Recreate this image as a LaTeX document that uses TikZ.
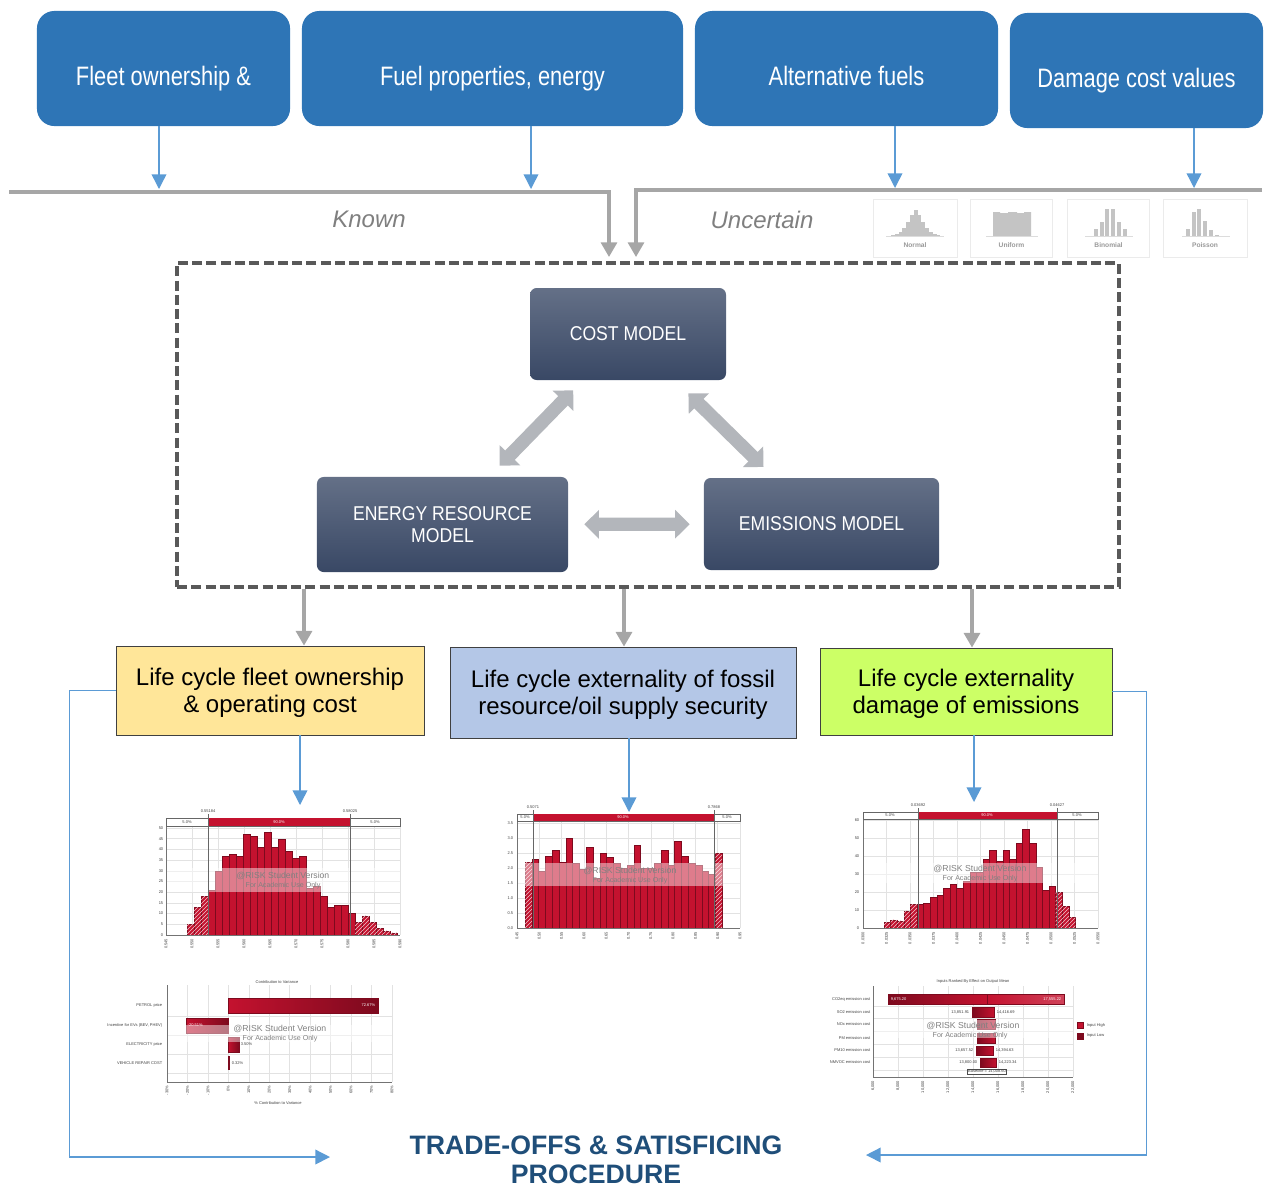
\documentclass[tikz,border=0pt]{standalone}
\usepackage{fontspec}
\setmainfont{Liberation Sans}
\usepackage{graphicx}
\usetikzlibrary{arrows.meta,patterns,calc}
\definecolor{topblue}{HTML}{2E75B6}
\definecolor{arrblue}{HTML}{5B9BD5}
\definecolor{linegrey}{HTML}{A6A6A6}
\definecolor{dashgrey}{HTML}{595959}
\definecolor{modtop}{HTML}{647087}
\definecolor{modbot}{HTML}{394865}
\definecolor{fatgrey}{HTML}{B3B6BB}
\definecolor{resyellow}{HTML}{FFE699}
\definecolor{resblue}{HTML}{B4C7E7}
\definecolor{resgreen}{HTML}{CCFF66}
\definecolor{navy}{HTML}{1F4E79}
\definecolor{barred}{HTML}{C4122F}
\definecolor{bardark}{HTML}{7D0A1E}
\definecolor{gridgrey}{HTML}{E2E2E2}
\definecolor{distgrey}{HTML}{C4C4C4}
\definecolor{labgrey}{HTML}{7F7F7F}
\newcommand{\narrowtext}[2]{\scalebox{#1}[1]{#2}}
\begin{document}
\begin{tikzpicture}[x=0.75pt,y=-0.75pt,
  topbox/.style={fill=topblue, rounded corners=13pt, inner sep=0pt},
  toptext/.style={text=white, font=\fontsize{20}{24}\selectfont, inner sep=0pt, anchor=base},
  bluearrow/.style={draw=arrblue, line width=1.1pt, -{Triangle[width=11pt,length=11pt]}},
  greyline/.style={draw=linegrey, line width=2.4pt, -{Triangle[width=12pt,length=11pt]}},
  uklabel/.style={text=labgrey, font=\itshape\fontsize{18}{20}\selectfont},
  distbox/.style={draw=black!8, fill=white, line width=0.6pt, inner sep=0pt},
  distlbl/.style={text=black!40, font=\bfseries\fontsize{5}{6}\selectfont, inner sep=0pt},
  model/.style={top color=modtop, bottom color=modbot, rounded corners=5pt, text=white, font=\fontsize{15}{17}\selectfont, align=center, inner sep=0pt},
  fatarrow/.style={draw=fatgrey, line width=10pt, {Triangle[width=21pt,length=11pt]}-{Triangle[width=21pt,length=11pt]}},
  resbox/.style={draw=black!75, line width=0.6pt, inner sep=0pt},
  restext/.style={align=center, font=\fontsize{18}{20.3}\selectfont, inner sep=0pt},
  trade/.style={text=navy, font=\bfseries\fontsize{20}{22}\selectfont, align=center, inner sep=0pt},
  gridline/.style={draw=gridgrey, line width=0.35pt},
  axisline/.style={draw=black!55, line width=0.5pt},
  barfill/.style={fill=barred, draw=bardark, line width=0.25pt},
  hatch/.style={pattern=north east lines, pattern color=white!75!barred},
  tinyt/.style={font=\fontsize{3}{3.5}\selectfont, inner sep=0.4pt, text=black!75},
  tinyw/.style={font=\fontsize{3}{3.5}\selectfont, inner sep=0.4pt, text=white},
  wmone/.style={font=\fontsize{6.5}{7}\selectfont, text=black!50, inner sep=0pt},
  wmtwo/.style={font=\fontsize{5.3}{6}\selectfont, text=black!50, inner sep=0pt},
  wmband/.style={fill=white, opacity=0.45},
  marker/.style={draw=black!60, line width=0.4pt},
]
\useasboundingbox (0,0) rectangle (1269,1189);

% ---------------- top input boxes
\node[topbox, minimum width=189.8pt, minimum height=86.3pt] (b1) at (163.5,68.5) {};
\node[toptext] (b1t) at (163.5,85) {\narrowtext{0.82}{Fleet ownership \&}};
\node[topbox, minimum width=285.8pt, minimum height=86.3pt] (b2) at (492.5,68.5) {};
\node[toptext] (b2t) at (492.5,85) {\narrowtext{0.82}{Fuel properties, energy}};
\node[topbox, minimum width=227.3pt, minimum height=86.3pt] (b3) at (846.5,68.5) {};
\node[toptext] (b3t) at (846.5,85) {\narrowtext{0.82}{Alternative fuels}};
\node[topbox, minimum width=189.8pt, minimum height=86.3pt] (b4) at (1136.5,70.5) {};
\node[toptext] (b4t) at (1136.5,87) {\narrowtext{0.82}{Damage cost values}};

\coordinate (k1) at (159,189);
\coordinate (k2) at (531,189);
\coordinate (u1) at (895,188);
\coordinate (u2) at (1194,188);
\draw[bluearrow] (b1.south -| k1) -- (k1);
\draw[bluearrow] (b2.south -| k2) -- (k2);
\draw[bluearrow] (b3.south -| u1) -- (u1);
\draw[bluearrow] (b4.south -| u2) -- (u2);

% ---------------- known / uncertain lines
\coordinate (kstart) at (9,192);
\coordinate (kend) at (609,257);
\draw[greyline] (kstart) -| (kend);
\coordinate (ustart) at (1262,190);
\coordinate (uend) at (636,257);
\draw[greyline] (ustart) -| (uend);
\node[uklabel] (known) at (369,219) {Known};
\node[uklabel] (unc) at (762,220) {Uncertain};

% ---------------- distribution icons
\node[distbox, minimum width=63pt, minimum height=43.5pt] (dn) at (915,228) {};
\node[distbox, minimum width=62pt, minimum height=43.5pt] (du) at (1011.5,228) {};
\node[distbox, minimum width=62pt, minimum height=43.5pt] (db) at (1108.5,228) {};
\node[distbox, minimum width=63pt, minimum height=43.5pt] (dp) at (1205,228) {};
\foreach \h [count=\i from 0] in {1,2,4,8,14,21,26,21,14,8,4,2,1}
  \fill[distgrey] ({891+\i*3.8},236) rectangle ++(3.8,{-\h});
\draw[distgrey!60, line width=0.4pt] (886,236.5) -- (944,236.5);
\fill[distgrey] (993,236) -- (993,212) -- (1000,212) -- (1000,213) -- (1008,213) -- (1008,212) -- (1017,212) -- (1017,213) -- (1024,213) -- (1024,212) -- (1031,212) -- (1031,236) -- cycle;
\draw[distgrey!60, line width=0.4pt] (986,236.5) -- (1038,236.5);
\foreach \h [count=\i from 0] in {7,14,27,27,14,7}
  \fill[distgrey] ({1094+\i*5.7},236) rectangle ++(4,{-\h});
\draw[distgrey!60, line width=0.4pt] (1085,236.5) -- (1133,236.5);
\foreach \h [count=\i from 0] in {7,24,27,15,6,1}
  \fill[distgrey] ({1186+\i*5.7},236) rectangle ++(4,{-\h});
\draw[distgrey!60, line width=0.4pt] (1182,236.5) -- (1230,236.5);
\node[distlbl] (dnl) at (915,245) {Normal};
\node[distlbl] (dul) at (1011.5,245) {Uniform};
\node[distlbl] (dbl) at (1108.5,245) {Binomial};
\node[distlbl] (dpl) at (1205,245) {Poisson};

% ---------------- dashed model frame
\node[draw=dashgrey, line width=2.8pt, dash pattern=on 7.5pt off 3.2pt, minimum width=706.5pt, minimum height=243pt, inner sep=0pt] (dbox) at (648,425) {};

\node[model, minimum width=147pt, minimum height=69pt] (cost) at (628,334) {\narrowtext{0.88}{COST MODEL}};
\node[model, minimum width=188.3pt, minimum height=71.3pt] (erm) at (442.5,524.5) {\narrowtext{0.88}{ENERGY RESOURCE}\\\narrowtext{0.88}{MODEL}};
\node[model, minimum width=176.3pt, minimum height=69pt] (emis) at (821.5,524) {\narrowtext{0.88}{EMISSIONS MODEL}};

\draw[fatarrow, shorten <=11.5pt, shorten >=10.5pt] (erm) -- (cost);
\draw[fatarrow, shorten <=14pt, shorten >=11.5pt] (cost) -- (emis);
\draw[fatarrow, shorten <=12pt, shorten >=10.5pt] (erm) -- (emis);

% ---------------- result boxes
\node[resbox, fill=resyellow, minimum width=231pt, minimum height=66.8pt] (r1) at (270,690.5) {};
\node[restext] (r1t) at (270,693) {Life cycle fleet ownership\\\& operating cost};
\node[resbox, fill=resblue, minimum width=259.5pt, minimum height=68.3pt] (r2) at (623,692.5) {};
\node[restext] (r2t) at (623,695) {Life cycle externality of fossil\\resource/oil supply security};
\node[resbox, fill=resgreen, minimum width=219pt, minimum height=65.3pt] (r3) at (966,691.5) {};
\node[restext] (r3t) at (966,694) {Life cycle externality\\damage of emissions};

\coordinate (o1) at (304,0);
\coordinate (o2) at (624,0);
\coordinate (o3) at (972,0);
\draw[greyline] (dbox.south -| o1) -- (r1.north -| o1);
\draw[greyline] (dbox.south -| o2) -- (r2.north -| o2);
\draw[greyline] (dbox.south -| o3) -- (r3.north -| o3);

\coordinate (c1) at (300,805);
\coordinate (c2) at (629,812);
\coordinate (c3) at (974,802);
\draw[bluearrow] (r1.south -| c1) -- (c1);
\draw[bluearrow] (r2.south -| c2) -- (c2);
\draw[bluearrow] (r3.south -| c3) -- (c3);

% ---------------- histogram 1
\foreach \k in {0,...,9} \draw[gridline] ({166+\k*26},823) -- ({166+\k*26},935);
\foreach \k in {1,...,10} \draw[gridline] (166,{935-\k*10.7}) -- (400,{935-\k*10.7});
\foreach \h [count=\i from 0] in {5,13,18,21,30,37,38,37,47,46,41,48,41,45,39,36,37,22,23,18,13,14,14,10,6,9,6,3,2,1}{
  \pgfmathsetmacro\xa{187+\i*7}
  \pgfmathtruncatemacro\tl{(\xa<207 || \xa>349) ? 1 : 0}
  \draw[barfill] (\xa,935) rectangle ++(7,{-\h*2.14});
  \ifnum\tl=1 \fill[hatch] (\xa,935) rectangle ++(7,{-\h*2.14});\fi
}
\fill[wmband] (166,868) rectangle (400,892);
\node[wmone] (h1a) at (283,876) {@RISK Student Version};
\node[wmtwo] (h1b) at (283,886) {For Academic Use Only};
\draw[axisline] (166,823) -- (166,935) -- (400,935);
\draw[marker, fill=white] (166,818) rectangle (400,826);
\fill[barred] (208,818) rectangle (350,826);
\draw[marker] (208,814) -- (208,935);
\draw[marker] (350,814) -- (350,935);
\node[tinyw] at (279,822) {90.0\%};
\node[tinyt] at (187,822) {5.0\%};
\node[tinyt] at (375,822) {5.0\%};
\node[tinyt] at (208,811) {0.55184};
\node[tinyt] at (350,811) {0.58025};
\foreach \v [count=\k from 0] in {0,5,10,15,20,25,30,35,40,45,50}
  \node[tinyt, anchor=east] at (164,{935-\k*10.7}) {\v};
\foreach \v [count=\k from 0] in {0.545,0.550,0.555,0.560,0.565,0.570,0.575,0.580,0.585,0.590}
  \node[tinyt, rotate=90, anchor=east] at ({166+\k*26},938) {\v};

% ---------------- histogram 2
\foreach \k in {0,...,10} \draw[gridline] ({517+\k*22.3},820) -- ({517+\k*22.3},928);
\foreach \k in {1,...,7} \draw[gridline] (517,{928-\k*15}) -- (740,{928-\k*15});
\foreach \h [count=\i from 0] in {2.2,2.3,1.9,2.4,2.6,2.2,3.0,2.15,1.95,2.7,1.65,2.5,2.35,2.15,2.0,2.1,2.75,2.0,2.0,2.15,2.6,2.1,2.9,2.4,2.15,2.1,1.9,1.8,2.5}{
  \pgfmathsetmacro\xa{525+\i*6.8}
  \pgfmathtruncatemacro\tl{(\xa<531 || \xa>712) ? 1 : 0}
  \draw[barfill] (\xa,928) rectangle ++(6.8,{-\h*30});
  \ifnum\tl=1 \fill[hatch] (\xa,928) rectangle ++(6.8,{-\h*30});\fi
}
\fill[wmband] (517,863) rectangle (740,886);
\node[wmone] (h2a) at (630,871) {@RISK Student Version};
\node[wmtwo] (h2b) at (630,881) {For Academic Use Only};
\draw[axisline] (517,820) -- (517,928) -- (740,928);
\draw[marker, fill=white] (517,814) rectangle (740,821);
\fill[barred] (533,814) rectangle (714,821);
\draw[marker] (533,810) -- (533,928);
\draw[marker] (714,810) -- (714,928);
\node[tinyw] at (623,817.5) {90.0\%};
\node[tinyt] at (525,817.5) {5.0\%};
\node[tinyt] at (727,817.5) {5.0\%};
\node[tinyt] at (533,807) {0.5071};
\node[tinyt] at (714,807) {0.7868};
\foreach \v [count=\k from 0] in {0.0,0.5,1.0,1.5,2.0,2.5,3.0,3.5}
  \node[tinyt, anchor=east] at (514,{928-\k*15}) {\v};
\foreach \v [count=\k from 0] in {0.45,0.50,0.55,0.60,0.65,0.70,0.75,0.80,0.85,0.90,0.95}
  \node[tinyt, rotate=90, anchor=east] at ({517+\k*22.3},931) {\v};

% ---------------- histogram 3
\foreach \k in {0,...,10} \draw[gridline] ({863+\k*23.5},820) -- ({863+\k*23.5},928);
\foreach \k in {1,...,6} \draw[gridline] (863,{928-\k*18}) -- (1098,{928-\k*18});
\foreach \h [count=\i from 0] in {3,4.5,4,9.5,13,13,14,17,18,22,24.5,22,26,31,31,38,43,37,43,38,47,55,47,34,21,23,20,12,6}{
  \pgfmathsetmacro\xa{884+\i*6.6}
  \pgfmathtruncatemacro\tl{(\xa<916 || \xa>1055) ? 1 : 0}
  \draw[barfill] (\xa,928) rectangle ++(6.6,{-\h*1.8});
  \ifnum\tl=1 \fill[hatch] (\xa,928) rectangle ++(6.6,{-\h*1.8});\fi
}
\fill[wmband] (863,863) rectangle (1098,883);
\node[wmone] (h3a) at (980,869) {@RISK Student Version};
\node[wmtwo] (h3b) at (980,879) {For Academic Use Only};
\draw[axisline] (863,820) -- (863,928) -- (1098,928);
\draw[marker, fill=white] (863,812) rectangle (1098,819);
\fill[barred] (918,812) rectangle (1057,819);
\draw[marker] (918,808) -- (918,928);
\draw[marker] (1057,808) -- (1057,928);
\node[tinyw] at (987,815.5) {90.0\%};
\node[tinyt] at (890,815.5) {5.0\%};
\node[tinyt] at (1077,815.5) {5.0\%};
\node[tinyt] at (918,805) {0.03692};
\node[tinyt] at (1057,805) {0.04627};
\foreach \v [count=\k from 0] in {0,10,20,30,40,50,60}
  \node[tinyt, anchor=east] at (860,{928-\k*18}) {\v};
\foreach \v [count=\k from 0] in {0.0300,0.0325,0.0350,0.0375,0.0400,0.0425,0.0450,0.0475,0.0500,0.0525,0.0550}
  \node[tinyt, rotate=90, anchor=east] at ({863+\k*23.5},931) {\v};

% ---------------- tornado 1
\node[tinyt] (t1title) at (277,982) {Contribution to Variance};
\foreach \k in {0,...,11} \draw[gridline] ({167+\k*20.45},985) -- ({167+\k*20.45},1082);
\foreach \y in {1016,1035,1054,1073} \draw[gridline] (167,\y) -- (392,\y);
\shade[left color=barred, right color=bardark, draw=bardark, line width=0.3pt] (228,998) rectangle (378,1013);
\shade[left color=barred, right color=bardark, draw=bardark, line width=0.3pt] (186,1018) rectangle (228,1033);
\shade[left color=barred, right color=bardark, draw=bardark, line width=0.3pt] (228,1037) rectangle (239,1052);
\fill[bardark] (228,1056) rectangle (229.5,1070);
\node[tinyw, anchor=east] at (376,1005.5) {72.67\%};
\node[tinyw, anchor=west] at (187,1025.5) {-20.51\%};
\node[tinyt, anchor=west] at (240,1044.5) {3.50\%};
\node[tinyt, anchor=west] at (231,1063) {0.32\%};
\fill[wmband] (167,1025) rectangle (392,1042);
\node[wmone] (t1a) at (280,1029) {@RISK Student Version};
\node[wmtwo] (t1b) at (280,1038.5) {For Academic Use Only};
\draw[axisline] (167,985) -- (167,1082) -- (392,1082);
\node[tinyt, anchor=east] at (163,1005.5) {PETROL price};
\node[tinyt, anchor=east] at (163,1025.5) {Incentive for EVs (BEV, PHEV)};
\node[tinyt, anchor=east] at (163,1044.5) {ELECTRICITY price};
\node[tinyt, anchor=east] at (163,1063) {VEHICLE REPAIR COST};
\foreach \v [count=\k from 0] in {-30\%,-20\%,-10\%,0\%,10\%,20\%,30\%,40\%,50\%,60\%,70\%,80\%}
  \node[tinyt, rotate=90, anchor=east] at ({167+\k*20.45},1085) {\v};
\node[tinyt] (t1x) at (278,1103) {\% Contribution to Variance};

% ---------------- tornado 2
\node[tinyt] (t2title) at (973,981) {Inputs Ranked By Effect on Output Mean};
\foreach \k in {0,...,8} \draw[gridline] ({873+\k*25},986) -- ({873+\k*25},1077);
\foreach \y in {1006,1018,1031,1044,1057,1070} \draw[gridline] (873,\y) -- (1073,\y);
\shade[left color=bardark, right color=barred, draw=bardark, line width=0.3pt] (888,994) rectangle (987,1004);
\shade[left color=barred, right color=barred!80!white, draw=bardark, line width=0.3pt] (987,994) rectangle (1064,1004);
\shade[left color=bardark, right color=barred, draw=bardark, line width=0.3pt] (972,1007) rectangle (994,1017);
\shade[left color=bardark, right color=barred, draw=bardark, line width=0.3pt] (977,1019) rectangle (995,1029);
\shade[left color=bardark, right color=barred, draw=bardark, line width=0.3pt] (977,1033) rectangle (995,1043);
\shade[left color=bardark, right color=barred, draw=bardark, line width=0.3pt] (976,1046) rectangle (993,1055);
\shade[left color=bardark, right color=barred, draw=bardark, line width=0.3pt] (980,1058) rectangle (996,1067);
\node[tinyw, anchor=west] at (890,999) {9,675.20};
\node[tinyw, anchor=east] at (1062,999) {17,555.22};
\node[tinyt, anchor=east] at (970,1012) {13,851.91};
\node[tinyt, anchor=west] at (996,1012) {14,416.69};
\node[tinyt, anchor=east] at (974,1050.5) {13,657.52};
\node[tinyt, anchor=west] at (995,1050.5) {14,394.63};
\node[tinyt, anchor=east] at (978,1062.5) {13,800.00};
\node[tinyt, anchor=west] at (998,1062.5) {14,223.34};
\fill[wmband] (873,1020) rectangle (1073,1038);
\node[wmone] (t2a) at (973,1026) {@RISK Student Version};
\node[wmtwo] (t2b) at (970,1035.5) {For Academic Use Only};
\node[tinyt, draw=black!70, fill=white, line width=0.3pt] (base) at (987,1071.5) {Baseline = 14,008.60};
\draw[axisline] (873,986) -- (873,1077) -- (1073,1077);
\node[tinyt, anchor=east] at (871,999) {CO2eq emission cost};
\node[tinyt, anchor=east] at (871,1012) {SO2 emission cost};
\node[tinyt, anchor=east] at (871,1024) {NOx emission cost};
\node[tinyt, anchor=east] at (871,1038) {PM emission cost};
\node[tinyt, anchor=east] at (871,1050.5) {PM10 emission cost};
\node[tinyt, anchor=east] at (871,1062.5) {NMVOC emission cost};
\fill[barred, draw=bardark, line width=0.3pt] (1077,1022) rectangle (1083,1028);
\fill[bardark, draw=bardark, line width=0.3pt] (1077,1033) rectangle (1083,1039);
\node[tinyt, anchor=west] at (1086,1025) {Input High};
\node[tinyt, anchor=west] at (1086,1036) {Input Low};
\foreach \v [count=\k from 0] in {{6,000},{8,000},{10,000},{12,000},{14,000},{16,000},{18,000},{20,000},{22,000}}
  \node[tinyt, rotate=90, anchor=east] at ({873+\k*25},1080) {\v};

% ---------------- trade-offs
\node[trade] (trade) at (596,1160) {TRADE-OFFS \& SATISFICING\\PROCEDURE};
\coordinate (tl) at (330,1157);
\coordinate (tr) at (866,1155);
\draw[bluearrow] (r1.west) -- ++(-46,0) |- (tl);
\draw[bluearrow] (r3.east) -- ++(34,0) |- (tr);
\end{tikzpicture}
\end{document}
